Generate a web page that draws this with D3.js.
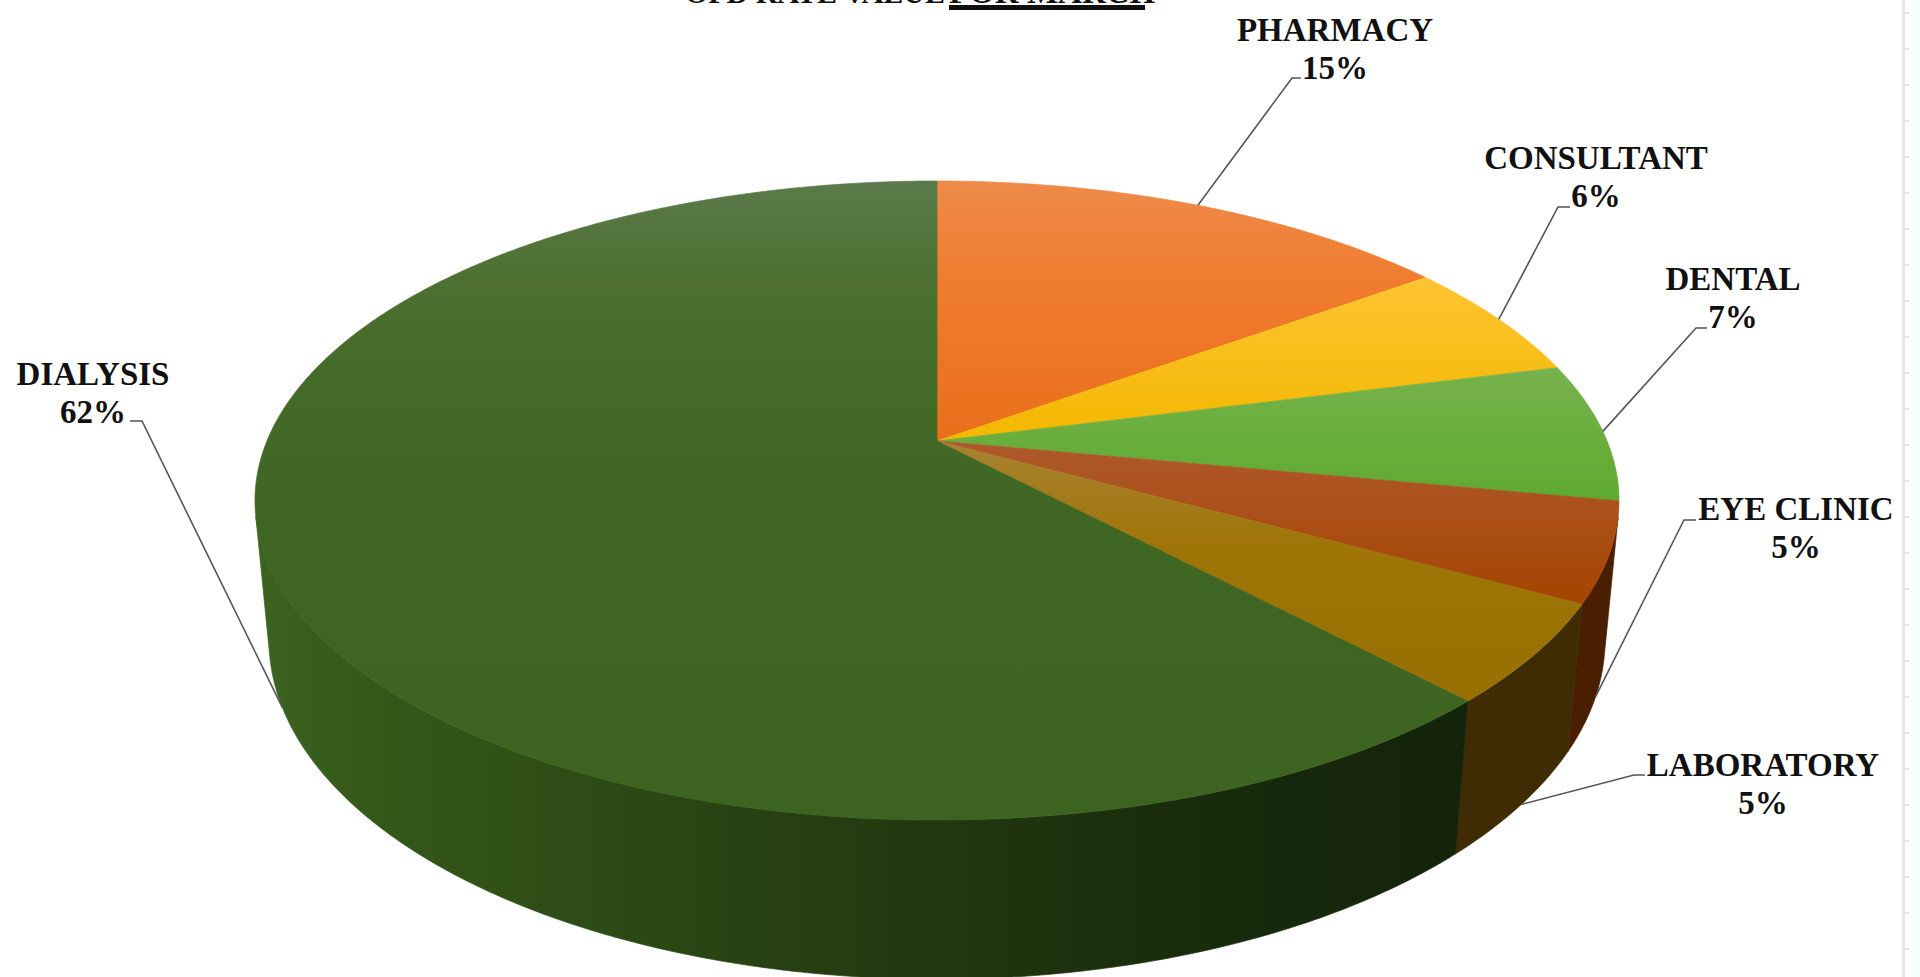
<!DOCTYPE html>
<html>
<head>
<meta charset="utf-8">
<script src="https://cdn.jsdelivr.net/npm/d3@7"></script>
<style>
  html, body { margin: 0; padding: 0; background: #fff; overflow: hidden; }
  svg { display: block; }
  text { font-family: "Liberation Serif", serif; font-weight: bold; fill: #111; }
</style>
</head>
<body>
<svg id="chart" width="1920" height="977"></svg>
<script>
//data
const categories = ["PHARMACY", "CONSULTANT", "DENTAL", "EYE CLINIC", "LABORATORY", "DIALYSIS"]
const percents = [15, 6, 7, 5, 5, 62]

//colours, top face gradient stops then side wall
const topStops = [
    [[0, "#ee8a4a"], [0.4, "#f07c2e"], [1, "#e96f1a"]],
    [[0, "#fdc432"], [1, "#f3b800"]],
    [[0, "#77b24c"], [1, "#5eaa30"]],
    [[0, "#b0582c"], [1, "#a44500"]],
    [[0, "#a98232"], [0.4, "#9f7508"], [1, "#977000"]],
    [[0, "#5b7a4b"], [0.12, "#4f7236"], [0.25, "#476c2a"], [0.5, "#3f6622"], [1, "#3d6320"]]
]
const wallColors = ["#8a4510", "#8a6a00", "#3c6420", "#4a1e00", "#402c04", "url(#wallDialysis)"]

//label layout: text centre, leader elbow, stub end, leader on bottom rim or not
const labelLayout = [
    { x: 1335, y: 41, ex: 1292, ey: 78, sx: 1301, bottom: false },
    { x: 1596, y: 169, ex: 1558, ey: 207, sx: 1570, bottom: false },
    { x: 1733, y: 290, ex: 1696, ey: 328, sx: 1707, bottom: false },
    { x: 1796, y: 520, ex: 1684, ey: 520, sx: 1696, bottom: true },
    { x: 1763, y: 776, ex: 1634, ey: 775, sx: 1645, bottom: true },
    { x: 93, y: 385, ex: 142, ey: 421, sx: 130, bottom: true }
]

//dimensions
const w = 1920
const h = 977
const cx = 937
const apexY = 441      // where the slices meet
const farY = 181       // back of the top rim
const nearY = 820      // front of the top rim
const rimX = 682       // half width of the top rim
const horizonY = -1201
const vanishY = 7347   // where the vertical wall edges converge
const wallK = 1.1057   // height of the pie as a cross ratio

const svg = d3.select("#chart")
const defs = svg.append("defs")

//perspective of the pie plane, the rim is a circle seen from above
const c = (2 * apexY - farY - nearY) / (farY - nearY)
const a = farY * (1 + c) - apexY
const d = rimX * Math.sqrt(1 - c * c)

function topPoint(angle) {
    const u = Math.sin(angle), v = Math.cos(angle)
    return [cx + d * u / (1 + c * v), (a * v + apexY) / (1 + c * v)]
}

function bottomPoint(angle) {
    const [x, y] = topPoint(angle)
    const r = wallK * (y - horizonY) / (y - vanishY)
    const y2 = (horizonY - r * vanishY) / (1 - r)
    return [cx + (x - cx) * (y2 - vanishY) / (y - vanishY), y2]
}

//true where the wall under this rim angle faces the viewer
function facesViewer(angle) {
    const p = topPoint(angle), q = topPoint(angle + 0.001)
    return (q[0] - p[0]) * (vanishY - p[1]) - (q[1] - p[1]) * (cx - p[0]) < 0
}

const pie = d3.pie().sort(null).value(d => d)
const slices = pie(percents)
const line = d3.line()

function arcAngles(s) {
    const n = Math.ceil((s.endAngle - s.startAngle) * 120)
    return d3.range(n + 1).map(i => s.startAngle + (s.endAngle - s.startAngle) * i / n)
}

//gradients
const wallGrad = defs.append("linearGradient")
    .attr("id", "wallDialysis")
    .attr("gradientUnits", "userSpaceOnUse")
    .attr("x1", 255).attr("x2", 1455).attr("y1", 0).attr("y2", 0)
wallGrad.selectAll("stop")
    .data([[0, "#3c6420"], [0.1, "#34581a"], [0.3, "#2c4a15"], [0.56, "#21380f"], [0.8, "#182b0c"], [1, "#14240b"]])
    .join("stop")
    .attr("offset", d => d[0])
    .attr("stop-color", d => d[1])

topStops.forEach((stops, i) => {
    defs.append("linearGradient")
        .attr("id", "top" + i)
        .attr("x1", 0).attr("x2", 0).attr("y1", 0).attr("y2", 1)
        .selectAll("stop")
        .data(stops)
        .join("stop")
        .attr("offset", d => d[0])
        .attr("stop-color", d => d[1])
})

//side walls, only the part that faces the viewer
svg.append("g").selectAll("path")
    .data(slices)
    .join("path")
    .attr("d", s => {
        const angles = arcAngles(s).filter(facesViewer)
        if (angles.length < 2) return null
        return line(angles.map(topPoint).concat(angles.slice().reverse().map(bottomPoint))) + "Z"
    })
    .attr("fill", (s, i) => wallColors[i])
    .attr("stroke", (s, i) => wallColors[i])
    .attr("stroke-width", 0.7)

//top faces
svg.append("g").selectAll("path")
    .data(slices)
    .join("path")
    .attr("d", s => line([[cx, apexY]].concat(arcAngles(s).map(topPoint))) + "Z")
    .attr("fill", (s, i) => `url(#top${i})`)
    .attr("stroke", (s, i) => `url(#top${i})`)
    .attr("stroke-width", 0.7)

//leaders
svg.append("g").selectAll("path")
    .data(slices)
    .join("path")
    .attr("d", (s, i) => {
        const l = labelLayout[i]
        const mid = (s.startAngle + s.endAngle) / 2
        const p = l.bottom ? bottomPoint(mid) : topPoint(mid)
        return line([p, [l.ex, l.ey], [l.sx, l.ey]])
    })
    .attr("fill", "none")
    .attr("stroke", "#555")
    .attr("stroke-width", 1.6)

//labels
const labels = svg.append("g").selectAll("text")
    .data(slices)
    .join("text")
    .attr("text-anchor", "middle")
    .style("font-size", "33px")
labels.append("tspan")
    .attr("x", (s, i) => labelLayout[i].x)
    .attr("y", (s, i) => labelLayout[i].y)
    .text((s, i) => categories[i])
labels.append("tspan")
    .attr("x", (s, i) => labelLayout[i].x)
    .attr("y", (s, i) => labelLayout[i].y + 38)
    .text(s => s.data + "%")

//title, only the foot of it is inside the picture
svg.append("text")
    .attr("x", 945).attr("y", 3)
    .attr("text-anchor", "end")
    .style("font-size", "30px")
    .text("OPD RATE VALUE")
svg.append("text")
    .attr("x", 949).attr("y", 3)
    .style("font-size", "33px")
    .text("FOR MARCH")
svg.append("line")
    .attr("x1", 949).attr("x2", 1145).attr("y1", 7.5).attr("y2", 7.5)
    .attr("stroke", "#111").attr("stroke-width", 5)

//ruler strip on the right edge
svg.append("rect")
    .attr("x", 1909).attr("y", 0).attr("width", 11).attr("height", h)
    .attr("fill", "#f5ffff")
svg.append("rect")
    .attr("x", 1902).attr("y", 0).attr("width", 3).attr("height", h)
    .attr("fill", "#e8e8e8")
svg.append("g").selectAll("rect")
    .data(d3.range(12, h, 36))
    .join("rect")
    .attr("x", 1902).attr("y", d => d).attr("width", 7).attr("height", 2)
    .attr("fill", "#e4e4e4")
</script>
</body>
</html>
